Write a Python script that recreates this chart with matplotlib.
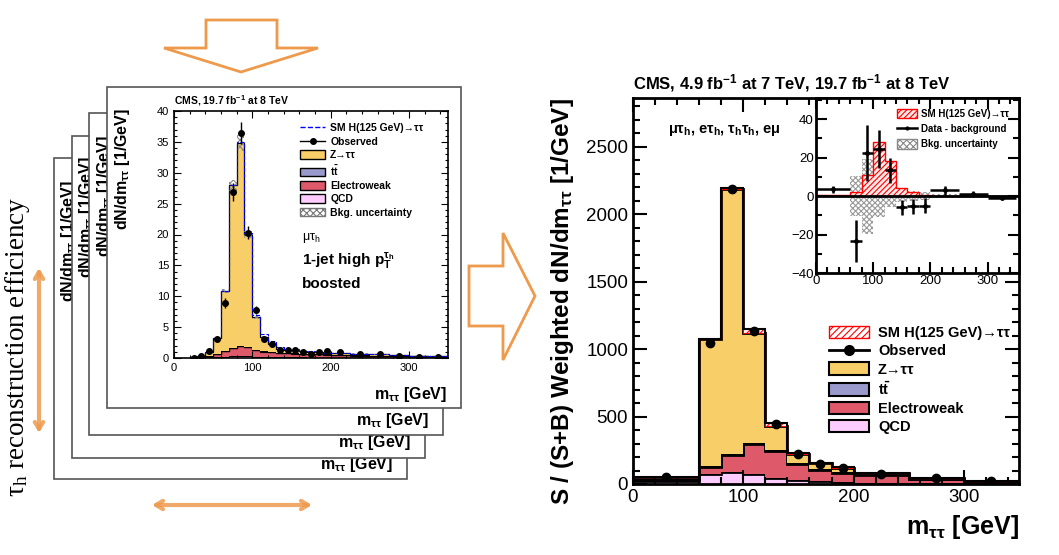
import numpy as np
import matplotlib
matplotlib.use("Agg")
import matplotlib.pyplot as plt
from matplotlib.patches import Rectangle, Polygon, Patch
from matplotlib.lines import Line2D
from matplotlib.ticker import MultipleLocator

plt.rcParams['font.family'] = ['Liberation Sans', 'DejaVu Sans']
plt.rcParams['mathtext.default'] = 'regular'
plt.rcParams['hatch.linewidth'] = 0.8

# ---- small category plot (mu tau_h, 1-jet high pT boosted) ----
cat_edges = [20, 30, 40, 50, 60, 70, 80, 90, 100, 110, 120, 130, 140, 150, 160,
             170, 180, 190, 200, 225, 250, 275, 300, 325, 350]
cat_qcd = [0.0, 0.05, 0.1, 0.15, 0.2, 0.25, 0.3, 0.25, 0.2, 0.15, 0.15, 0.12,
           0.1, 0.1, 0.1, 0.08, 0.08, 0.07, 0.07, 0.05, 0.05, 0.04, 0.03, 0.03]
cat_ewk = [0.1, 0.15, 0.3, 0.5, 0.9, 1.3, 1.6, 1.5, 1.1, 0.9, 0.8, 0.7,
           0.65, 0.6, 0.55, 0.5, 0.5, 0.45, 0.4, 0.35, 0.3, 0.25, 0.2, 0.15]
cat_tt = [0.0, 0.0, 0.0, 0.02, 0.03, 0.04, 0.05, 0.05, 0.06, 0.06, 0.06, 0.06,
          0.06, 0.06, 0.05, 0.05, 0.05, 0.05, 0.05, 0.04, 0.04, 0.03, 0.03, 0.02]
cat_ztt = [0.0, 0.15, 0.6, 2.5, 9.7, 26.4, 32.9, 18.2, 5.2, 2.3, 1.3, 0.6,
           0.55, 0.55, 0.45, 0.4, 0.3, 0.3, 0.3, 0.25, 0.2, 0.13, 0.1, 0.1]
cat_higgs = [0, 0, 0, 0, 0.05, 0.1, 0.2, 0.3, 0.4, 0.5, 0.4, 0.25,
             0.15, 0.1, 0.05, 0.03, 0.02, 0.02, 0.01, 0, 0, 0, 0, 0]
cat_unc = [0, 0, 0.05, 0.15, 0.3, 0.9, 1.3, 0.6, 0.3, 0.15, 0.1, 0.08,
           0.06, 0.06, 0.05, 0.05, 0.05, 0.05, 0.05, 0.04, 0.04, 0.03, 0.03, 0.02]
cat_obs = [0.05, 0.4, 1.2, 3.0, 8.9, 26.9, 36.4, 20.3, 7.8, 3.0, 2.3, 1.35,
           1.25, 1.25, 1.0, 0.7, 1.0, 1.1, 1.0, 0.6, 0.7, 0.3, 0.2, 0.2]
cat_obs_err = [0.1, 0.2, 0.3, 0.4, 0.8, 1.4, 1.8, 1.1, 0.7, 0.4, 0.35, 0.3,
               0.3, 0.3, 0.25, 0.2, 0.25, 0.25, 0.2, 0.15, 0.15, 0.1, 0.1, 0.1]

# ---- combined weighted plot ----
edges = [0, 60, 80, 100, 120, 140, 160, 180, 200, 250, 300, 350]
qcd = [20, 72, 86, 72, 47, 30, 22, 15, 8, 5, 3]
ewk = [17, 56, 126, 224, 197, 117, 82, 67, 61, 30, 11]
ttbar = [3, 5, 8, 10, 8, 6, 5, 4, 3, 2, 1]
ztt = [10, 939, 1964, 812, 179, 70, 47, 36, 6, 4, 5]
higgs = [0.5, 2, 11, 28, 18, 4, 2, 0.5, 0.2, 0.1, 0.05]
observed = [52, 1047, 2185, 1133, 445, 222, 148, 118, 75, 42, 22]
observed_err = [3, 10, 15, 10, 6, 4, 4, 3, 2, 2, 1]

# ---- inset: data - background ----
diff = [3.5, -23.5, 22.5, 24.5, 13.5, -5.8, -5.3, -5.0, 3.0, 0.9, -0.9]
diff_err = [1.8, 11.0, 14.5, 10.0, 6.5, 4.0, 3.8, 3.8, 2.5, 1.5, 0.8]
bkg_unc = [0.5, 10.5, 19.5, 11, 5.5, 3, 2.5, 2, 1, 0.5, 0.5]

c_ztt = '#F8CE68'
c_tt = '#9999CC'
c_ewk = '#DE5A6A'
c_qcd = '#FFCCFF'
orange = '#EE9A4D'

W, H = 1059, 555


def rect(x0, y0, x1, y1):
    return [x0 / W, 1 - y1 / H, (x1 - x0) / W, (y1 - y0) / H]


def draw_stack(ax, e, layers, colors, lw):
    base = np.zeros(len(e) - 1)
    for vals, col in zip(layers, colors):
        top = base + np.array(vals, dtype=float)
        ax.stairs(top, e, baseline=base, fill=True, color=col, lw=0)
        ax.stairs(top, e, baseline=None, color='black', lw=lw)
        base = top
    return base


fig = plt.figure(figsize=(W / 100, H / 100), dpi=100)

# background layer: stacked panels, arrows, labels
bg = fig.add_axes([0, 0, 1, 1], zorder=0)
bg.set_xlim(0, W)
bg.set_ylim(H, 0)
bg.axis('off')

panels = [(54, 158, 407, 479), (72, 136, 425, 458), (89, 113, 443, 435), (107, 87, 461, 408)]
ylab_pos = [(68, 302), (86, 278), (104, 257), (123, 230)]
xlab_pos = [(393, 465), (411, 443), (429, 420), (447, 394)]
for i, (x0, y0, x1, y1) in enumerate(panels):
    bg.add_patch(Rectangle((x0, y0), x1 - x0, y1 - y0, facecolor='white',
                           edgecolor='#555555', lw=1.2, zorder=2 + 2 * i))
    bg.text(ylab_pos[i][0], ylab_pos[i][1], r'dN/dm$_{ττ}$ [1/GeV]', rotation=90,
            ha='center', va='bottom', fontsize=11.5, fontweight='bold', zorder=3 + 2 * i)
    bg.text(xlab_pos[i][0], xlab_pos[i][1], r'm$_{ττ}$ [GeV]', ha='right', va='center',
            fontsize=11.5, fontweight='bold', zorder=3 + 2 * i)

bg.add_patch(Polygon([(206, 20), (277, 20), (277, 48), (318, 48), (241, 72), (164, 48), (206, 48)],
                     closed=True, fill=False, edgecolor=orange, lw=2))
bg.add_patch(Polygon([(469, 266), (503, 266), (503, 233), (535, 296), (503, 360), (503, 326), (469, 326)],
                     closed=True, fill=False, edgecolor=orange, lw=2))
arrow_style = dict(arrowstyle='<->,head_length=0.5,head_width=0.3', color=orange, lw=3,
                   shrinkA=0, shrinkB=0, alpha=0.85)
bg.annotate('', xy=(39, 268), xytext=(39, 433), arrowprops=arrow_style)
bg.annotate('', xy=(152, 505), xytext=(312, 505), arrowprops=arrow_style)
bg.text(18, 347, r'τ$_h$ reconstruction efficiency', rotation=90, ha='center', va='center',
        fontsize=19.5, family=['Liberation Serif', 'DejaVu Serif'])

bg.text(563, 302, r'S / (S+B) Weighted dN/dm$_{ττ}$ [1/GeV]', rotation=90, ha='center',
        va='center', fontsize=17.5, fontweight='bold')
bg.text(1019, 527, r'm$_{ττ}$ [GeV]', ha='right', va='center', fontsize=18, fontweight='bold')

# ---- small category chart ----
ax1 = fig.add_axes(rect(174, 111, 448, 358), zorder=1)
total = draw_stack(ax1, cat_edges, [cat_qcd, cat_ewk, cat_tt, cat_ztt],
                   [c_qcd, c_ewk, c_tt, c_ztt], 0.9)
ax1.stairs(total + np.array(cat_unc), cat_edges, baseline=total - np.array(cat_unc), fill=True,
           facecolor='none', edgecolor='#888888', hatch='xxxxx', lw=0)
ax1.stairs(total + np.array(cat_higgs), cat_edges, baseline=None, color='blue', ls='--', lw=0.8)
cat_centers = 0.5 * (np.array(cat_edges[:-1]) + np.array(cat_edges[1:]))
ax1.errorbar(cat_centers, cat_obs, yerr=cat_obs_err, fmt='o', color='black', ms=4, lw=1,
             capsize=0)
ax1.set_xlim(0, 350)
ax1.set_ylim(0, 40)
ax1.xaxis.set_major_locator(MultipleLocator(100))
ax1.xaxis.set_minor_locator(MultipleLocator(20))
ax1.yaxis.set_major_locator(MultipleLocator(5))
ax1.yaxis.set_minor_locator(MultipleLocator(1))
ax1.tick_params(which='both', direction='in', top=True, right=True, labelsize=8, width=0.8)
ax1.tick_params(which='major', length=5)
ax1.tick_params(which='minor', length=2.5)
for s in ax1.spines.values():
    s.set_linewidth(1.2)
ax1.text(0, 1.012, r'CMS, 19.7 fb$^{-1}$ at 8 TeV', transform=ax1.transAxes, ha='left',
         va='bottom', fontsize=7.5, fontweight='bold')
cat_handles = [
    Line2D([], [], color='blue', ls='--', lw=1),
    Line2D([], [], color='black', marker='o', ms=4, lw=1),
    Patch(facecolor=c_ztt, edgecolor='black'),
    Patch(facecolor=c_tt, edgecolor='black'),
    Patch(facecolor=c_ewk, edgecolor='black'),
    Patch(facecolor=c_qcd, edgecolor='black'),
    Patch(facecolor='white', edgecolor='#777777', hatch='xxxxx'),
]
cat_labels = ['SM H(125 GeV)→ττ', 'Observed', 'Z→ττ', r't$\bar{t}$', 'Electroweak', 'QCD',
              'Bkg. uncertainty']
leg1 = ax1.legend(cat_handles, cat_labels, loc='upper left', bbox_to_anchor=(0.46, 0.95),
                  frameon=False, fontsize=7.5, handlelength=2.4, handleheight=0.9,
                  labelspacing=0.32, borderpad=0, borderaxespad=0, handletextpad=0.5)
for t in leg1.get_texts():
    t.set_fontweight('bold')
ax1.text(0.467, 0.486, r'μτ$_h$', transform=ax1.transAxes, fontsize=9, va='center')
ax1.text(0.467, 0.393, r'1-jet high p$_T^{τ_h}$', transform=ax1.transAxes, fontsize=11,
         fontweight='bold', va='center')
ax1.text(0.467, 0.30, 'boosted', transform=ax1.transAxes, fontsize=11, fontweight='bold',
         va='center')

# ---- combined chart ----
ax2 = fig.add_axes(rect(633, 98, 1019, 484), zorder=1)
total_m = draw_stack(ax2, edges, [qcd, ewk, ttbar, ztt], [c_qcd, c_ewk, c_tt, c_ztt], 2)
ax2.stairs(total_m + np.array(higgs), edges, baseline=total_m, fill=True, facecolor='white',
           edgecolor='red', hatch='/////', lw=0.8)
ax2.stairs(total_m + np.array(higgs), edges, baseline=None, color='black', lw=1.5)
centers = 0.5 * (np.array(edges[:-1]) + np.array(edges[1:]))
ax2.errorbar(centers, observed, yerr=observed_err, fmt='o', color='black', ms=6, lw=1.5,
             capsize=0, zorder=5)
ax2.set_xlim(0, 350)
ax2.set_ylim(0, 2860)
ax2.xaxis.set_major_locator(MultipleLocator(100))
ax2.xaxis.set_minor_locator(MultipleLocator(20))
ax2.yaxis.set_major_locator(MultipleLocator(500))
ax2.yaxis.set_minor_locator(MultipleLocator(100))
ax2.tick_params(which='both', direction='in', top=True, right=True, labelsize=13.5, width=1.5)
ax2.tick_params(which='major', length=10)
ax2.tick_params(which='minor', length=5)
for s in ax2.spines.values():
    s.set_linewidth(2)
ax2.text(0, 1.01, r'CMS, 4.9 fb$^{-1}$ at 7 TeV, 19.7 fb$^{-1}$ at 8 TeV', transform=ax2.transAxes,
         ha='left', va='bottom', fontsize=12, fontweight='bold')
ax2.text(0.09, 0.917, r'μτ$_h$, eτ$_h$, τ$_h$τ$_h$, eμ', transform=ax2.transAxes, fontsize=10.5,
         fontweight='bold', va='center')
main_handles = [
    Patch(facecolor='white', edgecolor='red', hatch='/////'),
    Line2D([], [], color='black', marker='o', ms=7, lw=2),
    Patch(facecolor=c_ztt, edgecolor='black', lw=1.5),
    Patch(facecolor=c_tt, edgecolor='black', lw=1.5),
    Patch(facecolor=c_ewk, edgecolor='black', lw=1.5),
    Patch(facecolor=c_qcd, edgecolor='black', lw=1.5),
]
main_labels = ['SM H(125 GeV)→ττ', 'Observed', 'Z→ττ', r't$\bar{t}$', 'Electroweak', 'QCD']
leg2 = ax2.legend(main_handles, main_labels, loc='upper left', bbox_to_anchor=(0.508, 0.41),
                  frameon=False, fontsize=10.5, handlelength=2.75, handleheight=0.95,
                  labelspacing=0.27, borderpad=0, borderaxespad=0, handletextpad=0.6)
for t in leg2.get_texts():
    t.set_fontweight('bold')

# ---- inset ----
ax3 = fig.add_axes(rect(816, 98, 1019, 273), zorder=3)
ax3.stairs(np.array(bkg_unc), edges, baseline=-np.array(bkg_unc), fill=True, facecolor='none',
           edgecolor='#999999', hatch='xxxxxx', lw=0)
ax3.stairs(higgs, edges, baseline=0, fill=True, facecolor='#FFE8E8', edgecolor='red',
           hatch='//////', lw=1)
ax3.axhline(0, color='black', lw=2)
ax3.errorbar(centers, diff, xerr=np.diff(edges) / 2, yerr=diff_err, fmt='o', color='black',
             ms=2.5, lw=1.8, capsize=0, zorder=5)
ax3.set_xlim(0, 355)
ax3.set_ylim(-40, 51)
ax3.xaxis.set_major_locator(MultipleLocator(100))
ax3.xaxis.set_minor_locator(MultipleLocator(20))
ax3.yaxis.set_major_locator(MultipleLocator(20))
ax3.yaxis.set_minor_locator(MultipleLocator(10))
ax3.tick_params(which='both', direction='in', top=True, right=True, labelsize=9.5, width=1.5,
                pad=1.5)
ax3.tick_params(which='major', length=8)
ax3.tick_params(which='minor', length=4)
for s in ax3.spines.values():
    s.set_linewidth(2)
inset_handles = [
    Patch(facecolor='#FFE8E8', edgecolor='red', hatch='//////'),
    Line2D([], [], color='black', marker='o', ms=2, lw=1.8),
    Patch(facecolor='white', edgecolor='#888888', hatch='xxxxx'),
]
inset_labels = ['SM H(125 GeV)→ττ', 'Data - background', 'Bkg. uncertainty']
leg3 = ax3.legend(inset_handles, inset_labels, loc='upper left', bbox_to_anchor=(0.40, 0.94),
                  frameon=False, fontsize=7, handlelength=2.0, handleheight=1.1,
                  labelspacing=0.55, borderpad=0, borderaxespad=0, handletextpad=0.4)
for t in leg3.get_texts():
    t.set_fontweight('bold')
bg.text(1006, 299, r'm$_{ττ}$ [GeV]', ha='right', va='center', fontsize=11, fontweight='bold')

fig.savefig('out.png', dpi=100)
